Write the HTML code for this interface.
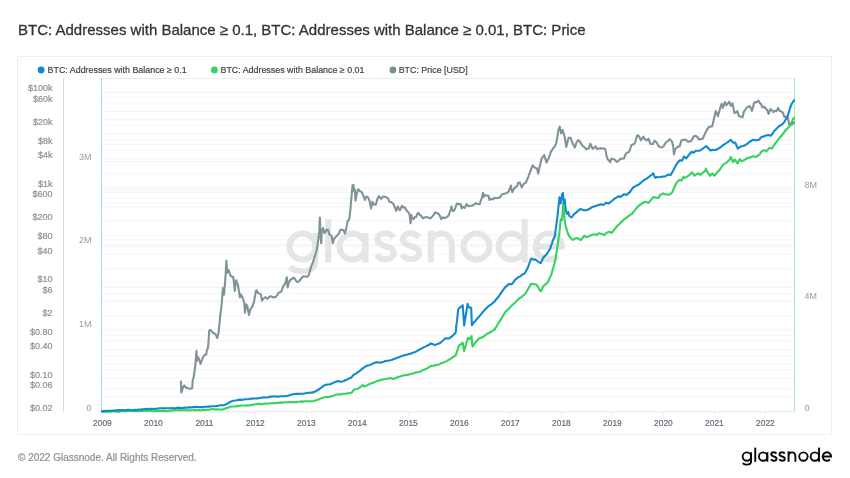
<!DOCTYPE html>
<html><head><meta charset="utf-8">
<style>
html,body{margin:0;padding:0;background:#fff;}
body{width:850px;height:478px;position:relative;overflow:hidden;font-family:"Liberation Sans",sans-serif;}
.title{position:absolute;left:18px;top:21px;font-size:15px;color:#333;-webkit-text-stroke:0.3px #333;white-space:nowrap;line-height:18px;}
.footer{position:absolute;left:18px;top:451.5px;font-size:10px;color:#8f8f8f;-webkit-text-stroke:0.2px #8f8f8f;white-space:nowrap;line-height:12px;}
.logo{position:absolute;left:740px;top:440px;font-size:19.8px;color:#111;white-space:nowrap;line-height:24px;}
svg{position:absolute;left:0;top:0;will-change:transform;}
.title,.footer{will-change:transform;}
</style></head><body>
<div class="title">BTC: Addresses with Balance ≥ 0.1, BTC: Addresses with Balance ≥ 0.01, BTC: Price</div>
<svg width="850" height="478" viewBox="0 0 850 478">
<rect x="17.5" y="56.5" width="814" height="378" fill="#fff" stroke="#eeeeee" stroke-width="1"/>
<g stroke="#f5f5f5" stroke-width="1"><line x1="101" y1="92.5" x2="794" y2="92.5"/><line x1="101" y1="97.1" x2="794" y2="97.1"/><line x1="101" y1="103.1" x2="794" y2="103.1"/><line x1="101" y1="111.5" x2="794" y2="111.5"/><line x1="101" y1="119.8" x2="794" y2="119.8"/><line x1="101" y1="125.8" x2="794" y2="125.8"/><line x1="101" y1="133.7" x2="794" y2="133.7"/><line x1="101" y1="140.1" x2="794" y2="140.1"/><line x1="101" y1="144.7" x2="794" y2="144.7"/><line x1="101" y1="150.7" x2="794" y2="150.7"/><line x1="101" y1="159.1" x2="794" y2="159.1"/><line x1="101" y1="161.5" x2="794" y2="161.5"/><line x1="101" y1="173.4" x2="794" y2="173.4"/><line x1="101" y1="187.7" x2="794" y2="187.7"/><line x1="101" y1="189.3" x2="794" y2="189.3"/><line x1="101" y1="192.3" x2="794" y2="192.3"/><line x1="101" y1="198.3" x2="794" y2="198.3"/><line x1="101" y1="203.1" x2="794" y2="203.1"/><line x1="101" y1="206.7" x2="794" y2="206.7"/><line x1="101" y1="221.0" x2="794" y2="221.0"/><line x1="101" y1="235.3" x2="794" y2="235.3"/><line x1="101" y1="239.9" x2="794" y2="239.9"/><line x1="101" y1="244.8" x2="794" y2="244.8"/><line x1="101" y1="245.9" x2="794" y2="245.9"/><line x1="101" y1="254.3" x2="794" y2="254.3"/><line x1="101" y1="268.6" x2="794" y2="268.6"/><line x1="101" y1="282.9" x2="794" y2="282.9"/><line x1="101" y1="286.4" x2="794" y2="286.4"/><line x1="101" y1="287.5" x2="794" y2="287.5"/><line x1="101" y1="293.5" x2="794" y2="293.5"/><line x1="101" y1="300.3" x2="794" y2="300.3"/><line x1="101" y1="301.9" x2="794" y2="301.9"/><line x1="101" y1="316.2" x2="794" y2="316.2"/><line x1="101" y1="328.1" x2="794" y2="328.1"/><line x1="101" y1="330.5" x2="794" y2="330.5"/><line x1="101" y1="335.1" x2="794" y2="335.1"/><line x1="101" y1="341.1" x2="794" y2="341.1"/><line x1="101" y1="349.5" x2="794" y2="349.5"/><line x1="101" y1="355.9" x2="794" y2="355.9"/><line x1="101" y1="363.8" x2="794" y2="363.8"/><line x1="101" y1="369.8" x2="794" y2="369.8"/><line x1="101" y1="378.1" x2="794" y2="378.1"/><line x1="101" y1="382.7" x2="794" y2="382.7"/><line x1="101" y1="388.7" x2="794" y2="388.7"/><line x1="101" y1="397.1" x2="794" y2="397.1"/></g>
<line x1="101" y1="78.5" x2="794" y2="78.5" stroke="#ececec" stroke-width="1"/>
<line x1="101" y1="411.8" x2="794" y2="411.8" stroke="#e6e6e6" stroke-width="1"/>
<g stroke="#efefef" stroke-width="1"><line x1="102.4" y1="412" x2="102.4" y2="418"/><line x1="153.4" y1="412" x2="153.4" y2="418"/><line x1="204.4" y1="412" x2="204.4" y2="418"/><line x1="255.4" y1="412" x2="255.4" y2="418"/><line x1="306.4" y1="412" x2="306.4" y2="418"/><line x1="357.4" y1="412" x2="357.4" y2="418"/><line x1="408.4" y1="412" x2="408.4" y2="418"/><line x1="459.4" y1="412" x2="459.4" y2="418"/><line x1="510.4" y1="412" x2="510.4" y2="418"/><line x1="561.4" y1="412" x2="561.4" y2="418"/><line x1="612.4" y1="412" x2="612.4" y2="418"/><line x1="663.4" y1="412" x2="663.4" y2="418"/><line x1="714.4" y1="412" x2="714.4" y2="418"/><line x1="765.4" y1="412" x2="765.4" y2="418"/></g>
<g fill="none" stroke="#e5e5e5" stroke-width="6"><circle cx="302.5" cy="246.5" r="13"/><path d="M315.5,233 V260 C315.5,267.5 310,271.25 302.5,271.25 C297,271.25 292.5,269.5 290,266.5"/><path d="M328.25,219 V262.5"/><circle cx="352.55" cy="246.5" r="13"/><path d="M365.55,233 V262.5"/><path d="M393.5,237.5 C391.5,234.5 388.5,233.25 385.5,233.25 C380.5,233.25 377.5,236 377.5,239.5 C377.5,243.5 381,245 385.5,246.25 C390.5,247.5 393.75,249.5 393.75,253 C393.75,257 390,259.25 385.5,259.25 C381.5,259.25 378.5,257.5 376.75,254.5"/><path transform="translate(25.5,0)" d="M393.5,237.5 C391.5,234.5 388.5,233.25 385.5,233.25 C380.5,233.25 377.5,236 377.5,239.5 C377.5,243.5 381,245 385.5,246.25 C390.5,247.5 393.75,249.5 393.75,253 C393.75,257 390,259.25 385.5,259.25 C381.5,259.25 378.5,257.5 376.75,254.5"/><path d="M430.8,230.5 V262.5 M430.8,246 C430.8,238.5 435,233.5 441.3,233.5 C447.6,233.5 451.8,238.5 451.8,246 V262.5"/><circle cx="476.5" cy="246.5" r="13"/><circle cx="511.65" cy="246.5" r="13"/><path d="M524.65,219 V262.5"/><path d="M535.75,246.5 H561.75 A13,13 0 1 0 557.9,255.7"/></g>
<line x1="63.5" y1="78" x2="63.5" y2="411.5" stroke="#d5dadd" stroke-width="1"/>
<line x1="101.5" y1="78" x2="101.5" y2="411.5" stroke="#a8d5ef" stroke-width="1"/>
<line x1="794.5" y1="78" x2="794.5" y2="411.5" stroke="#a6e8b6" stroke-width="1"/>
<g fill="none" stroke-width="1.9" stroke-linejoin="round" stroke-linecap="round">
<path d="M180.9,381.6 L181.0,383.1 L181.0,384.8 L181.1,386.3 L181.1,388.0 L181.2,389.7 L181.2,391.0 L181.3,392.5 L181.9,391.1 L182.5,389.2 L183.3,386.7 L184.2,385.4 L185.4,387.0 L187.7,388.3 L190.1,388.8 L192.2,388.2 L192.3,386.3 L192.4,384.8 L192.5,383.4 L192.6,381.6 L192.7,380.1 L193.6,377.7 L193.8,375.7 L194.1,374.3 L194.3,372.7 L194.6,370.9 L194.8,369.0 L195.1,367.0 L195.4,364.6 L195.5,363.0 L195.7,361.3 L195.8,359.6 L195.9,357.9 L196.1,356.0 L196.2,354.3 L196.4,352.4 L196.5,350.9 L196.6,352.7 L196.6,354.1 L196.7,355.6 L196.8,357.4 L196.8,359.5 L196.9,361.1 L197.3,359.1 L197.7,356.9 L198.9,358.8 L199.5,360.5 L200.0,362.2 L200.6,364.0 L201.2,362.0 L201.8,360.1 L202.7,358.1 L203.6,356.1 L204.7,355.0 L206.3,354.5 L206.5,352.6 L206.7,350.6 L207.7,348.4 L208.1,346.3 L208.4,344.1 L208.5,342.3 L208.6,340.6 L208.7,338.7 L208.8,337.2 L208.9,335.6 L209.0,333.7 L209.1,331.9 L209.2,330.6 L210.3,329.8 L211.4,330.9 L212.5,332.5 L213.9,333.3 L215.4,334.0 L216.4,335.9 L217.3,338.0 L217.7,336.3 L218.2,334.1 L218.6,332.4 L218.8,330.5 L218.9,329.0 L219.1,327.3 L219.3,325.8 L219.4,324.3 L219.6,322.5 L219.8,321.0 L219.9,319.0 L220.1,317.1 L220.3,315.5 L220.5,313.5 L220.7,311.8 L221.0,310.1 L221.2,308.5 L221.4,306.6 L221.6,304.7 L221.7,303.3 L221.9,301.5 L222.0,300.1 L222.1,298.5 L222.2,296.6 L222.4,294.8 L222.5,293.1 L222.6,291.5 L222.8,289.8 L222.9,288.1 L223.2,289.7 L223.4,291.6 L223.7,293.1 L223.9,294.6 L224.1,293.0 L224.3,291.1 L224.4,289.4 L224.6,288.0 L224.8,286.2 L224.9,284.4 L225.1,282.4 L225.2,280.7 L225.3,279.0 L225.4,277.0 L225.6,275.5 L225.7,273.8 L225.8,271.8 L225.9,270.3 L225.9,268.7 L226.0,267.2 L226.1,265.5 L226.2,264.0 L226.2,262.5 L226.3,260.5 L226.4,262.1 L226.6,264.1 L226.7,266.1 L226.9,267.6 L227.0,269.4 L227.2,271.2 L227.3,272.8 L228.6,270.0 L229.2,271.9 L229.9,273.8 L230.5,275.8 L233.3,277.2 L233.5,278.9 L233.7,280.8 L233.9,282.2 L234.1,284.0 L234.2,285.8 L234.4,287.4 L234.6,288.9 L234.8,290.9 L235.0,289.0 L235.2,287.2 L235.4,285.5 L235.7,284.0 L235.9,282.0 L236.1,280.3 L236.7,281.9 L237.4,283.7 L238.0,285.2 L238.3,287.1 L238.5,288.6 L238.8,290.4 L239.1,292.2 L239.4,294.2 L239.6,295.8 L239.9,297.4 L241.0,294.4 L241.8,296.0 L242.6,297.5 L243.1,299.3 L243.7,301.0 L244.2,302.3 L244.3,304.0 L244.5,306.0 L244.6,307.8 L244.7,309.6 L244.9,311.2 L245.0,312.7 L245.2,311.0 L245.4,309.6 L245.7,307.8 L245.9,306.1 L246.1,304.4 L247.3,306.0 L247.6,307.8 L247.9,309.8 L248.3,311.3 L248.6,312.8 L248.9,315.0 L249.3,313.6 L249.7,312.2 L250.1,310.4 L250.5,309.0 L251.5,307.8 L252.5,306.1 L253.0,304.7 L253.6,303.2 L254.1,301.6 L254.4,299.6 L254.7,297.6 L255.1,295.7 L255.4,293.7 L255.7,291.7 L256.5,290.3 L257.8,292.8 L259.3,293.6 L260.9,294.4 L261.3,296.6 L261.6,298.6 L262.0,300.6 L263.5,298.5 L265.6,297.1 L267.2,298.9 L268.8,297.3 L270.3,296.2 L271.9,296.8 L273.4,297.5 L276.1,296.7 L277.0,295.3 L277.8,293.9 L278.7,292.7 L281.3,291.6 L282.0,289.5 L282.7,287.5 L283.4,285.8 L284.9,284.1 L285.4,282.6 L285.9,280.7 L286.3,278.9 L286.8,277.2 L286.9,279.1 L287.1,280.5 L287.2,282.3 L287.3,284.2 L287.5,285.8 L287.6,287.5 L288.1,285.2 L288.6,283.4 L289.1,281.7 L291.2,279.3 L293.8,277.6 L294.9,279.0 L295.9,280.5 L297.0,281.9 L298.0,282.0 L299.2,281.0 L300.4,279.5 L301.9,277.8 L303.5,276.3 L305.4,276.5 L307.4,276.7 L308.2,275.7 L309.0,274.5 L309.5,272.6 L309.9,271.1 L310.4,269.4 L310.8,267.8 L311.3,266.2 L311.9,264.8 L312.5,263.3 L313.1,261.7 L313.7,260.0 L314.2,258.5 L314.6,256.8 L315.1,255.4 L315.6,254.0 L316.2,251.9 L316.8,249.8 L317.1,248.0 L317.3,246.3 L317.6,244.7 L317.8,243.2 L318.1,241.3 L318.3,239.6 L318.5,237.7 L318.8,235.7 L319.0,233.7 L319.2,231.9 L319.3,230.2 L319.4,228.4 L319.5,226.7 L319.5,224.9 L319.6,223.0 L319.7,221.3 L319.8,219.6 L319.9,217.6 L320.0,219.4 L320.0,221.2 L320.1,223.2 L320.1,225.1 L320.2,226.6 L320.2,228.5 L320.3,230.3 L320.3,231.8 L320.4,233.5 L320.6,235.2 L320.7,237.3 L320.9,239.3 L321.0,241.3 L321.2,243.2 L321.3,241.3 L321.4,239.6 L321.5,237.7 L321.5,235.6 L321.6,234.0 L321.7,231.9 L321.8,230.1 L323.1,228.0 L323.5,229.6 L323.9,231.3 L324.3,233.1 L325.2,232.0 L326.2,230.2 L327.8,229.3 L328.3,231.2 L328.8,232.6 L329.3,234.4 L331.7,236.0 L332.0,237.9 L332.2,239.7 L332.5,241.4 L332.8,243.2 L333.3,241.2 L333.9,239.8 L334.4,238.2 L335.6,237.2 L336.9,235.8 L338.8,233.6 L339.7,231.8 L340.6,229.5 L343.5,230.3 L344.2,231.9 L345.0,233.6 L345.4,231.8 L345.8,230.1 L346.2,228.5 L346.6,227.0 L346.9,225.1 L347.3,223.0 L347.6,220.8 L349.2,219.7 L349.4,218.0 L349.6,216.3 L349.8,214.5 L350.0,213.0 L350.2,211.6 L350.4,209.7 L350.5,208.0 L350.7,205.9 L350.8,204.3 L351.0,202.6 L351.1,200.8 L351.3,199.0 L351.4,197.2 L351.6,195.6 L351.8,194.0 L351.9,192.0 L352.1,190.2 L352.2,188.7 L352.4,187.2 L352.5,185.4 L353.4,184.8 L353.6,186.6 L353.8,188.1 L354.0,189.7 L354.2,191.4 L354.9,189.4 L355.0,191.2 L355.1,193.0 L355.2,195.0 L355.3,197.1 L355.4,198.7 L355.5,200.6 L355.8,198.6 L356.2,196.8 L356.5,194.8 L357.0,192.9 L357.6,191.1 L358.1,189.2 L360.2,191.4 L361.7,192.0 L362.5,193.7 L363.3,195.6 L364.1,197.7 L364.9,200.0 L365.6,198.0 L366.4,196.5 L368.0,197.4 L368.8,199.2 L369.6,201.0 L370.0,203.0 L370.4,204.9 L370.7,206.6 L371.1,208.4 L371.4,206.7 L371.8,205.2 L372.1,203.3 L372.4,201.7 L373.7,204.4 L375.8,204.8 L376.3,202.7 L376.9,200.7 L377.4,198.9 L378.2,197.5 L379.0,196.1 L380.1,197.7 L381.1,198.9 L383.2,196.5 L385.8,197.1 L387.9,198.1 L388.6,199.9 L389.4,201.7 L391.5,202.3 L393.6,204.1 L394.2,206.0 L394.9,207.5 L395.6,209.2 L396.2,211.0 L397.0,208.6 L397.8,206.4 L398.9,208.6 L399.9,210.3 L400.6,208.7 L401.3,207.2 L402.0,205.8 L403.0,207.4 L404.7,207.4 L406.3,210.0 L407.6,211.7 L408.9,212.8 L409.7,215.1 L409.9,217.0 L410.0,218.5 L410.2,220.2 L410.3,221.7 L410.5,223.3 L410.7,221.8 L410.9,219.9 L411.0,218.6 L411.2,217.0 L411.4,215.0 L411.8,217.0 L412.2,218.5 L413.5,219.1 L414.7,217.0 L416.0,217.2 L416.6,215.6 L417.2,213.9 L418.5,212.8 L419.7,215.1 L421.0,215.6 L422.7,218.3 L424.8,217.4 L426.4,216.9 L428.1,217.5 L430.2,218.4 L431.9,216.7 L433.5,215.2 L434.4,213.8 L435.2,212.3 L436.9,213.3 L438.6,213.8 L440.2,216.5 L441.3,219.2 L442.7,217.3 L444.8,218.1 L446.9,217.1 L448.6,215.3 L449.5,212.9 L450.3,210.8 L450.9,208.6 L451.4,206.4 L451.9,208.5 L452.4,210.6 L454.0,210.9 L455.3,207.9 L456.1,205.7 L457.0,203.5 L458.6,204.1 L460.0,204.0 L460.8,204.4 L461.2,206.6 L461.7,208.5 L462.9,206.7 L464.6,208.0 L465.6,206.3 L466.7,204.1 L468.4,206.3 L470.5,205.8 L472.6,205.6 L474.1,204.5 L475.5,203.4 L477.6,203.8 L479.7,204.3 L480.3,202.3 L480.9,200.1 L481.9,197.8 L482.4,195.2 L483.0,192.8 L483.4,194.8 L483.8,196.9 L485.1,195.1 L486.8,195.6 L488.5,195.8 L489.0,197.8 L489.5,200.0 L491.0,198.8 L493.1,199.5 L494.3,197.8 L496.0,198.2 L498.1,197.9 L500.2,197.1 L501.8,194.5 L503.5,194.1 L505.6,193.4 L508.5,192.0 L509.1,190.3 L509.8,188.8 L510.4,186.9 L510.9,185.5 L511.2,187.4 L511.6,189.2 L511.9,190.6 L512.3,192.3 L513.1,190.6 L514.0,188.9 L515.6,187.0 L517.3,186.1 L518.0,182.9 L519.8,182.4 L520.4,184.0 L521.1,185.7 L521.7,187.5 L522.8,185.3 L523.9,183.8 L526.0,182.3 L526.7,180.5 L527.5,178.8 L528.2,177.1 L528.9,175.0 L529.7,173.1 L530.4,170.9 L531.1,169.1 L531.9,167.3 L532.6,165.4 L534.8,167.6 L537.0,168.5 L537.4,170.3 L537.8,171.7 L538.2,173.5 L538.6,171.9 L539.0,169.9 L539.3,168.3 L539.7,166.6 L540.1,164.7 L540.5,163.1 L540.9,161.7 L541.3,159.7 L541.7,158.2 L543.0,156.7 L544.3,155.0 L544.8,157.1 L545.4,158.9 L546.0,160.8 L546.5,162.6 L547.2,161.2 L548.0,159.5 L548.7,158.2 L549.2,156.7 L549.8,155.1 L550.4,153.3 L550.9,151.7 L552.0,150.1 L553.1,148.3 L554.6,146.8 L555.5,144.9 L556.3,143.1 L556.6,141.2 L556.9,139.6 L557.2,137.9 L557.5,136.1 L557.8,134.2 L558.1,132.5 L558.4,130.6 L558.7,128.7 L559.7,126.7 L560.1,128.3 L560.5,129.7 L560.8,131.7 L561.2,133.4 L561.9,131.7 L562.6,130.1 L563.2,132.2 L563.9,134.2 L564.5,136.0 L564.8,137.6 L565.1,139.5 L565.4,141.6 L565.7,143.3 L566.0,145.2 L566.3,146.9 L566.7,145.1 L567.2,143.3 L567.6,141.6 L568.1,139.8 L568.5,137.9 L570.7,137.9 L571.3,139.6 L571.8,141.5 L572.4,143.1 L573.2,144.5 L574.0,146.1 L574.8,147.6 L575.4,146.1 L575.9,144.2 L576.5,142.5 L578.2,140.0 L580.0,141.7 L581.3,144.0 L582.6,145.7 L583.8,146.8 L585.1,148.1 L586.3,149.3 L588.8,148.2 L589.5,146.0 L590.3,143.7 L591.1,145.2 L591.8,147.2 L592.6,148.8 L594.2,147.7 L595.7,146.4 L597.0,149.1 L600.1,148.3 L601.8,148.4 L603.5,148.5 L605.2,149.0 L605.5,150.6 L605.8,152.0 L606.1,153.4 L606.4,155.2 L607.0,157.3 L607.7,159.2 L609.0,160.6 L610.2,162.2 L610.8,160.4 L611.4,158.7 L614.0,159.2 L615.5,160.4 L617.1,162.0 L618.7,160.7 L620.2,158.9 L622.1,158.8 L624.0,158.4 L624.6,156.8 L625.3,155.3 L625.9,153.7 L627.5,152.6 L629.0,151.9 L629.6,150.3 L630.2,148.8 L630.9,146.7 L631.5,144.9 L634.1,144.0 L635.3,141.9 L635.8,140.1 L636.2,138.4 L636.7,136.8 L637.2,135.3 L639.1,136.3 L640.0,138.3 L641.0,140.3 L642.1,138.5 L643.3,136.7 L644.7,139.1 L646.6,140.4 L648.5,138.8 L649.1,140.4 L649.8,142.3 L650.4,144.0 L653.2,143.9 L653.9,142.1 L654.6,140.7 L656.5,142.2 L657.5,144.1 L658.4,145.9 L659.8,146.8 L661.2,147.6 L663.5,146.4 L664.7,144.3 L665.9,142.5 L667.2,141.6 L668.4,140.5 L669.7,139.2 L670.9,140.3 L672.0,141.8 L672.6,143.9 L673.2,146.1 L673.3,147.9 L673.5,149.4 L673.6,151.3 L673.8,152.9 L673.9,154.4 L674.4,152.6 L674.8,150.7 L675.3,149.0 L676.5,148.1 L677.7,146.7 L679.6,146.4 L680.2,144.3 L680.8,142.3 L681.4,140.6 L683.0,140.1 L684.7,139.5 L686.4,140.4 L688.0,141.6 L689.6,141.4 L691.3,141.0 L692.1,139.4 L692.9,138.2 L693.7,136.4 L695.6,135.8 L697.5,137.0 L698.9,139.4 L700.8,139.1 L702.6,138.8 L703.4,137.2 L704.2,135.4 L705.0,133.8 L705.7,132.2 L706.5,130.9 L707.3,129.2 L708.4,127.6 L709.5,126.6 L712.1,126.4 L712.7,124.4 L713.2,122.0 L713.6,120.4 L713.9,118.7 L714.3,117.3 L714.7,115.7 L715.1,114.1 L715.4,112.6 L715.8,111.1 L716.5,112.7 L717.3,114.5 L718.0,116.2 L718.4,114.3 L718.8,112.9 L719.3,111.2 L719.7,109.7 L720.1,107.8 L720.9,105.8 L721.6,103.8 L722.2,106.1 L722.7,108.0 L723.4,106.1 L724.2,104.2 L724.9,102.0 L725.6,103.7 L726.4,105.4 L727.8,103.4 L729.3,101.7 L730.0,103.9 L730.8,105.9 L732.6,103.3 L732.9,105.2 L733.2,106.7 L733.5,108.3 L733.8,109.8 L734.1,111.4 L734.4,113.0 L735.9,112.3 L737.4,111.2 L738.1,113.6 L738.8,115.9 L740.6,116.5 L742.5,117.3 L743.0,115.2 L743.5,113.1 L744.0,111.4 L745.0,110.1 L745.9,108.8 L746.9,107.3 L749.8,106.2 L750.5,107.5 L751.3,109.2 L752.0,110.8 L752.5,108.7 L753.0,107.2 L753.5,105.2 L754.0,103.3 L755.0,102.0 L756.5,102.2 L758.3,100.5 L759.8,103.1 L761.2,104.3 L762.3,107.4 L764.2,106.6 L766.0,108.8 L767.4,110.3 L768.0,112.1 L768.5,113.9 L769.5,111.5 L770.4,109.1 L772.2,110.5 L773.3,112.1 L774.8,110.8 L776.2,111.2 L777.2,109.6 L778.1,107.9 L779.5,110.7 L781.4,111.5 L783.2,113.3 L783.8,115.1 L784.3,116.9 L785.7,116.9 L787.6,116.5 L788.0,118.2 L788.3,119.8 L788.7,121.3 L789.0,123.3 L789.4,125.0 L790.9,125.0 L792.3,124.5 L793.4,122.3 L794.2,122.8" stroke="#7f9399" stroke-width="2.1"/>
<path d="M101.8,411.5 L103.4,411.6 L105.0,411.6 L106.6,411.7 L108.3,411.8 L109.9,411.7 L111.5,411.8 L113.1,411.3 L114.7,411.3 L116.3,411.6 L118.0,411.5 L119.6,411.6 L121.2,411.2 L122.8,411.2 L124.4,411.1 L126.0,411.2 L127.7,411.2 L129.3,410.9 L130.9,410.8 L132.5,410.9 L134.1,411.2 L135.7,411.3 L137.3,411.0 L139.0,411.2 L140.6,410.9 L142.2,411.0 L143.8,410.8 L145.4,410.6 L147.0,411.0 L148.7,410.8 L150.3,410.7 L151.9,411.1 L153.5,411.2 L155.1,410.9 L156.7,411.1 L158.3,411.0 L159.9,411.0 L161.5,410.7 L163.1,411.0 L164.7,410.9 L166.3,411.1 L167.9,411.1 L169.5,410.7 L171.1,410.6 L172.7,410.4 L174.3,410.2 L175.9,410.1 L177.6,410.2 L179.2,410.4 L180.8,410.1 L182.4,410.3 L184.0,410.2 L185.6,410.2 L187.2,410.4 L188.8,410.3 L190.4,410.2 L192.0,410.2 L193.6,410.3 L195.2,410.0 L196.8,410.3 L198.4,409.9 L200.0,410.2 L201.7,410.3 L203.4,409.8 L205.0,410.0 L206.7,409.8 L208.4,409.8 L210.1,409.4 L211.8,409.2 L213.4,409.1 L215.1,409.5 L216.8,409.2 L218.5,409.4 L220.1,409.5 L221.8,409.6 L223.5,409.2 L225.2,408.5 L226.8,408.0 L228.5,407.6 L230.1,406.8 L231.8,406.5 L233.5,406.5 L235.2,406.5 L236.9,405.9 L238.6,406.1 L240.2,405.6 L241.9,405.5 L243.6,405.5 L245.3,405.7 L247.0,405.3 L248.7,405.4 L250.4,405.2 L252.1,404.8 L253.7,404.6 L255.4,404.3 L257.1,404.1 L258.8,403.9 L260.5,404.1 L262.2,404.3 L263.9,403.8 L265.5,403.4 L267.2,403.7 L268.9,403.5 L270.6,403.3 L272.3,403.0 L273.9,403.1 L275.6,403.2 L277.3,402.9 L279.0,402.7 L280.6,402.4 L282.3,402.7 L284.0,402.2 L285.6,402.2 L287.3,402.4 L289.0,402.0 L290.7,402.1 L292.3,402.2 L294.0,402.0 L296.0,402.1 L298.0,401.7 L300.0,401.7 L301.8,401.4 L303.5,401.6 L305.3,401.3 L307.1,401.2 L308.8,401.4 L310.6,401.3 L312.3,401.3 L314.1,400.9 L315.7,400.3 L317.3,399.9 L318.9,399.3 L320.6,398.6 L322.2,398.1 L323.8,397.4 L325.4,397.0 L327.2,397.0 L328.9,396.9 L330.7,396.4 L332.4,395.9 L334.2,395.4 L336.0,394.8 L337.7,394.5 L339.5,394.4 L341.2,394.4 L342.9,393.9 L344.6,393.8 L346.4,393.6 L348.1,393.3 L349.8,393.0 L351.5,392.8 L352.9,391.0 L354.4,389.5 L356.1,389.0 L357.9,388.7 L359.5,387.6 L361.2,386.4 L362.8,384.9 L364.2,386.6 L365.8,385.9 L367.4,385.2 L369.0,384.2 L370.6,383.7 L372.3,382.9 L374.0,382.4 L375.7,381.6 L377.4,381.1 L379.1,380.4 L380.7,380.1 L382.3,379.6 L383.9,379.3 L385.6,379.0 L387.2,378.8 L388.8,378.2 L390.4,378.0 L393.2,379.1 L395.1,378.3 L396.9,377.6 L398.8,376.9 L400.5,376.3 L402.2,375.8 L403.9,375.2 L405.6,375.1 L407.3,374.9 L408.9,374.4 L410.5,374.0 L412.1,373.7 L413.6,373.3 L415.2,372.6 L416.8,372.4 L418.4,372.0 L420.0,371.7 L421.5,370.8 L423.1,370.1 L424.6,369.5 L426.1,368.8 L427.6,368.1 L429.2,367.0 L430.7,366.1 L432.5,365.8 L434.2,365.6 L436.0,365.0 L437.8,364.7 L439.6,364.2 L441.4,363.2 L443.1,362.6 L444.9,361.9 L446.7,361.1 L448.2,360.1 L449.7,359.3 L451.1,358.3 L452.6,357.3 L454.1,356.3 L455.6,355.6 L456.1,354.0 L456.7,352.5 L457.2,350.9 L457.7,349.1 L458.3,347.8 L458.8,345.8 L460.1,344.8 L461.4,343.8 L462.7,342.8 L463.0,344.3 L463.3,346.4 L463.5,347.9 L463.8,349.3 L464.1,351.2 L464.6,349.3 L465.1,347.8 L465.6,346.0 L466.1,344.4 L466.5,343.0 L467.0,341.3 L467.5,339.4 L468.0,337.8 L469.8,339.1 L470.7,337.6 L471.6,336.0 L471.7,337.9 L471.9,339.6 L472.0,341.6 L472.1,343.5 L472.3,345.1 L472.4,346.5 L473.4,345.5 L474.5,343.8 L475.5,342.4 L476.6,341.3 L477.6,340.2 L478.7,338.7 L480.5,338.0 L482.2,337.3 L484.0,336.2 L485.3,335.3 L486.7,334.2 L488.0,333.3 L489.4,332.8 L490.7,331.8 L492.0,331.2 L493.4,330.4 L494.7,329.4 L495.6,327.7 L496.5,326.6 L497.4,325.0 L498.2,323.5 L499.1,322.0 L500.0,320.9 L500.9,319.4 L501.8,317.8 L502.6,316.4 L503.5,314.8 L504.4,313.6 L505.3,312.1 L506.6,310.8 L507.8,309.7 L509.1,308.6 L510.4,306.9 L511.7,305.8 L512.9,304.4 L514.2,303.5 L515.7,302.1 L517.3,300.4 L518.8,298.8 L520.1,297.7 L521.3,297.2 L522.6,296.0 L523.8,295.0 L525.1,294.0 L526.0,292.6 L526.8,291.2 L527.7,289.9 L528.5,288.1 L529.4,286.9 L530.2,285.3 L531.1,283.9 L532.9,284.0 L534.6,284.2 L536.4,284.5 L537.3,285.9 L538.2,287.2 L539.0,288.8 L539.9,290.2 L540.8,291.3 L541.6,289.7 L542.3,288.2 L543.1,286.9 L543.9,285.5 L545.8,284.1 L547.7,282.5 L548.5,281.0 L549.2,279.2 L550.0,277.5 L550.7,275.8 L551.5,274.1 L552.0,272.3 L552.4,270.9 L552.9,269.0 L553.4,267.3 L553.8,265.8 L554.3,263.9 L554.7,262.2 L555.2,260.8 L555.5,258.8 L555.8,257.3 L556.0,255.6 L556.3,253.8 L556.6,251.9 L556.9,250.3 L557.1,248.8 L557.4,246.7 L557.7,245.0 L557.9,243.3 L558.2,241.5 L558.4,239.6 L558.7,237.7 L558.9,236.1 L559.2,234.6 L559.4,232.5 L559.6,230.7 L559.7,229.3 L559.9,227.7 L560.0,226.0 L560.2,223.9 L560.4,222.4 L560.5,220.9 L560.7,219.4 L562.0,220.4 L562.1,218.3 L562.2,216.9 L562.4,214.9 L562.5,213.4 L562.6,211.9 L562.7,210.2 L562.8,208.2 L563.0,206.4 L563.1,205.1 L563.2,203.1 L563.3,204.9 L563.5,206.6 L563.6,208.2 L563.8,210.1 L563.9,211.6 L564.1,213.3 L564.2,215.1 L564.4,216.8 L564.5,218.4 L564.8,220.6 L565.1,222.7 L565.4,224.8 L565.7,226.3 L566.2,227.9 L566.7,229.4 L567.1,231.1 L567.6,232.7 L568.4,234.6 L569.3,236.1 L570.1,237.5 L571.4,238.8 L572.6,239.8 L572.7,239.9 L574.8,238.8 L576.8,238.0 L578.8,239.0 L580.9,240.0 L582.0,238.5 L583.2,237.2 L584.3,235.7 L586.3,237.2 L588.3,236.5 L590.4,235.6 L592.5,234.8 L594.5,234.2 L596.5,235.1 L597.9,233.9 L599.3,233.1 L600.9,233.9 L602.4,234.2 L604.0,235.1 L605.4,233.9 L606.7,232.8 L609.5,231.6 L611.5,232.9 L612.9,231.5 L614.2,229.7 L615.3,228.3 L616.5,227.1 L617.6,225.4 L619.0,224.6 L620.3,223.2 L621.4,221.8 L622.6,220.9 L623.7,219.7 L625.4,218.4 L627.1,217.1 L628.5,216.2 L630.0,214.9 L631.8,214.1 L632.9,212.4 L634.0,211.2 L635.1,209.8 L636.3,208.4 L637.4,207.1 L638.5,206.0 L639.8,205.0 L641.2,204.1 L642.5,203.0 L643.9,202.5 L645.2,201.6 L646.9,202.3 L648.5,202.7 L649.8,201.4 L651.0,199.8 L652.2,198.4 L653.5,196.9 L655.2,197.4 L656.8,197.7 L658.5,197.9 L660.0,195.1 L661.5,194.3 L663.1,193.4 L664.7,194.2 L666.3,194.4 L668.4,194.6 L670.5,194.2 L671.5,193.0 L672.5,192.0 L673.2,190.2 L673.9,188.4 L674.6,186.6 L675.7,184.5 L676.7,182.6 L678.0,181.2 L679.3,180.0 L681.4,180.6 L682.5,178.9 L683.5,176.6 L685.1,178.0 L686.7,176.9 L688.2,175.8 L689.5,174.8 L690.8,173.7 L691.9,172.3 L693.2,173.7 L694.5,175.7 L697.1,174.0 L698.7,173.2 L700.2,174.8 L701.5,173.8 L702.9,172.6 L704.9,171.2 L706.0,168.7 L706.8,170.7 L707.6,172.4 L708.9,174.1 L710.2,175.8 L712.3,173.4 L713.3,174.6 L714.4,175.7 L715.7,174.2 L717.0,172.6 L718.5,170.9 L720.0,169.4 L720.3,168.8 L721.5,167.1 L722.6,165.7 L723.8,164.0 L725.2,163.4 L726.6,162.6 L728.0,161.1 L729.5,159.9 L730.1,158.4 L730.7,157.0 L731.5,158.7 L732.2,160.2 L733.0,162.2 L734.7,159.5 L735.7,160.6 L736.6,162.3 L737.6,163.5 L738.4,161.8 L739.1,160.4 L739.9,159.2 L741.6,161.4 L743.6,160.4 L745.6,159.2 L747.4,158.3 L749.1,157.8 L750.8,157.0 L752.5,156.4 L754.2,156.5 L756.0,157.0 L757.8,155.7 L759.5,154.6 L760.6,152.8 L761.8,151.2 L764.1,150.1 L766.4,151.3 L767.5,149.9 L768.7,148.7 L769.8,148.0 L772.1,148.4 L773.2,146.5 L774.4,144.5 L775.6,143.0 L776.8,141.3 L778.0,139.8 L779.1,138.3 L780.1,137.1 L781.2,136.1 L782.3,134.7 L783.4,133.5 L784.4,131.8 L785.5,130.2 L786.8,129.1 L788.0,127.9 L789.3,126.7 L790.0,125.1 L790.8,123.7 L791.5,122.4 L792.3,121.0 L793.0,119.2 L794.0,117.9" stroke="#33d35d" stroke-width="2.1"/>
<path d="M101.8,411.3 L103.5,411.1 L105.1,410.9 L106.8,411.0 L108.4,410.7 L110.1,410.8 L111.7,410.7 L113.4,410.5 L115.1,410.6 L116.7,410.3 L118.4,410.4 L120.0,410.1 L121.7,410.0 L123.3,410.1 L125.0,410.4 L126.7,410.0 L128.4,409.9 L130.0,410.0 L131.7,410.2 L133.4,410.1 L135.1,409.8 L136.7,410.0 L138.4,409.5 L140.1,409.7 L141.8,409.4 L143.4,409.2 L145.1,409.0 L146.8,408.9 L148.5,409.2 L150.1,408.9 L151.8,408.9 L153.5,409.0 L155.2,408.8 L156.8,408.8 L158.5,408.4 L160.1,408.2 L161.8,408.2 L163.4,408.4 L165.1,408.3 L166.8,408.2 L168.4,408.3 L170.1,408.2 L171.7,408.0 L173.4,408.2 L175.0,408.2 L176.7,407.9 L178.3,407.9 L180.0,407.8 L181.7,408.0 L183.3,407.9 L185.0,407.6 L186.7,407.8 L188.3,407.4 L190.0,407.3 L191.7,407.4 L193.3,407.1 L195.0,407.1 L196.7,406.8 L198.3,407.0 L200.0,407.1 L201.7,407.0 L203.4,407.1 L205.1,406.7 L206.7,406.7 L208.4,406.6 L210.1,406.5 L211.8,406.3 L213.5,406.3 L215.1,406.3 L216.8,406.0 L218.5,405.8 L220.2,405.3 L221.8,405.3 L223.5,405.2 L225.2,404.6 L227.0,403.9 L228.6,402.8 L230.2,401.9 L231.8,401.3 L233.6,400.7 L235.3,400.5 L237.0,400.2 L238.6,399.9 L240.3,399.6 L242.0,399.9 L243.7,399.5 L245.3,399.3 L247.0,399.2 L248.7,399.3 L250.4,398.8 L252.1,398.6 L253.7,398.5 L255.4,398.5 L257.1,398.4 L258.8,398.3 L260.5,397.8 L262.2,397.6 L263.9,397.3 L265.5,397.5 L267.2,397.5 L268.9,396.9 L270.6,396.6 L272.4,396.5 L274.1,396.4 L275.9,396.5 L277.6,396.6 L279.4,396.5 L281.2,396.2 L282.9,396.3 L284.7,396.3 L286.3,396.0 L288.0,395.8 L289.6,395.3 L291.3,394.7 L292.9,394.2 L294.7,394.1 L296.4,393.7 L298.2,393.9 L300.0,393.8 L301.8,393.8 L303.5,393.7 L305.3,393.3 L307.1,393.0 L308.8,392.7 L310.6,392.7 L312.3,392.4 L314.1,392.1 L315.5,391.3 L317.0,390.5 L318.4,389.8 L319.8,388.7 L321.2,387.6 L322.6,386.7 L324.0,385.7 L325.4,384.9 L328.2,384.5 L329.9,384.3 L331.5,383.7 L333.1,382.9 L334.8,382.2 L336.5,381.6 L338.1,381.0 L340.2,381.8 L341.9,381.5 L343.5,381.2 L345.2,380.3 L346.8,379.7 L348.4,378.8 L349.9,378.1 L351.5,377.5 L352.6,375.9 L353.6,374.7 L356.5,373.4 L357.9,372.1 L359.3,371.3 L360.7,370.1 L362.1,368.7 L363.8,367.8 L365.4,366.5 L367.1,365.6 L368.6,365.3 L370.1,364.9 L371.6,364.3 L373.2,363.4 L374.7,362.8 L376.2,362.1 L378.4,362.5 L380.5,362.6 L382.1,362.3 L383.8,361.7 L385.4,361.0 L387.1,360.8 L388.8,360.6 L390.4,360.2 L392.1,359.7 L393.8,359.1 L395.4,358.6 L397.1,357.7 L398.8,357.2 L400.5,356.6 L402.2,355.9 L403.9,355.3 L405.6,354.9 L407.3,354.5 L408.9,354.1 L410.5,353.7 L412.1,352.9 L413.6,352.4 L415.2,351.9 L416.8,351.2 L418.4,350.2 L420.0,349.3 L421.8,348.4 L423.5,347.4 L425.3,346.6 L426.6,345.9 L428.0,345.3 L429.4,344.5 L430.7,343.4 L432.9,344.2 L435.1,345.1 L437.4,343.9 L439.6,343.3 L440.9,342.3 L442.2,341.2 L443.6,339.9 L444.9,338.5 L447.1,338.3 L449.3,338.5 L450.6,337.2 L451.8,336.3 L453.1,335.3 L454.3,334.0 L455.6,332.7 L455.8,331.3 L456.0,329.7 L456.2,327.7 L456.3,325.8 L456.5,324.1 L456.7,322.9 L456.9,321.4 L457.1,319.4 L457.3,318.0 L457.5,316.6 L457.6,314.8 L457.8,312.9 L458.0,311.3 L458.2,309.4 L459.7,307.7 L461.2,306.7 L462.7,305.2 L462.8,306.9 L462.9,308.8 L463.1,310.3 L463.2,312.2 L463.3,314.0 L463.4,315.3 L463.5,316.9 L463.6,318.6 L463.8,320.2 L463.9,322.1 L464.0,323.7 L464.1,325.5 L464.4,323.6 L464.6,322.4 L464.9,320.6 L465.2,318.9 L465.4,317.3 L465.7,315.8 L466.0,314.0 L466.3,312.5 L466.5,310.7 L466.8,309.0 L467.1,307.3 L467.3,305.3 L467.6,303.7 L468.2,305.6 L468.9,307.4 L471.2,307.8 L471.3,309.3 L471.3,311.2 L471.4,313.1 L471.5,314.8 L471.5,316.4 L471.6,318.2 L471.7,320.0 L471.8,321.9 L471.8,323.3 L471.9,325.2 L473.0,323.6 L474.2,322.1 L475.3,321.0 L476.4,319.6 L477.6,318.2 L478.7,316.9 L479.9,315.7 L481.1,314.2 L482.2,312.8 L483.4,311.4 L484.6,310.1 L485.8,308.8 L487.1,307.6 L488.3,306.5 L489.6,305.4 L490.9,304.6 L492.2,303.5 L493.4,302.5 L494.7,301.4 L495.8,299.8 L496.8,298.5 L497.9,297.5 L498.9,296.2 L500.0,294.6 L501.0,293.0 L502.0,291.7 L503.0,290.1 L504.0,288.8 L505.0,287.3 L506.3,286.3 L507.5,285.2 L508.8,284.0 L511.9,284.1 L512.9,283.0 L513.8,281.7 L514.8,280.1 L515.7,279.1 L517.2,278.3 L518.6,277.0 L520.1,276.4 L521.6,275.2 L523.0,274.3 L524.5,273.6 L525.5,272.0 L526.6,269.9 L527.6,268.1 L528.2,266.6 L528.8,265.0 L529.4,263.3 L529.9,261.7 L530.5,260.4 L531.1,258.5 L533.3,259.7 L535.1,259.4 L536.4,260.2 L537.7,261.3 L539.2,262.3 L540.8,263.2 L541.4,261.5 L542.0,260.4 L542.7,259.0 L543.3,257.7 L544.8,256.0 L546.4,254.6 L547.4,252.9 L548.3,251.8 L549.2,250.2 L550.2,248.5 L550.8,246.7 L551.3,245.2 L551.9,243.6 L552.5,241.7 L553.1,239.9 L553.8,238.6 L554.4,236.9 L555.0,235.4 L555.2,233.4 L555.4,231.5 L555.6,230.1 L555.9,228.4 L556.1,226.5 L556.3,225.3 L556.5,223.6 L556.7,222.1 L557.0,220.0 L557.2,218.6 L557.4,216.6 L557.6,215.2 L557.8,213.4 L558.0,211.5 L558.1,209.8 L558.3,208.4 L558.5,206.3 L558.7,204.4 L558.9,202.8 L559.0,200.9 L559.2,199.0 L559.4,197.2 L559.8,199.2 L560.3,201.3 L560.7,203.5 L560.9,201.8 L561.2,200.3 L561.4,198.4 L561.7,196.7 L561.9,194.8 L562.9,193.0 L563.1,194.7 L563.3,196.6 L563.4,198.4 L563.6,200.6 L563.8,202.6 L564.8,199.9 L564.9,201.7 L565.1,203.6 L565.2,205.0 L565.4,206.9 L565.6,208.5 L565.7,210.1 L566.4,212.2 L567.0,213.9 L568.2,212.0 L568.9,214.0 L569.5,216.2 L571.4,217.5 L572.8,215.9 L574.1,214.2 L575.8,212.9 L577.5,211.3 L578.9,210.2 L580.2,209.0 L581.9,209.6 L583.6,210.2 L585.7,210.2 L587.7,209.7 L590.4,208.3 L592.1,207.2 L593.8,206.5 L595.5,206.1 L597.2,205.4 L599.2,204.8 L601.3,204.3 L603.3,205.0 L604.7,204.0 L606.1,202.8 L608.8,203.6 L609.9,202.4 L611.1,201.7 L612.2,200.8 L613.5,199.6 L614.9,198.4 L616.6,197.6 L618.3,196.3 L620.3,196.9 L621.7,195.8 L623.0,195.0 L624.4,194.2 L626.5,194.9 L628.2,193.4 L630.0,192.1 L630.1,191.5 L631.2,190.1 L632.3,188.6 L633.4,187.3 L635.1,186.4 L636.8,185.4 L638.5,184.7 L639.8,183.6 L641.0,182.6 L642.2,181.5 L643.5,180.5 L644.8,179.7 L646.2,178.8 L647.5,178.0 L648.9,176.9 L650.2,175.8 L651.7,174.9 L653.2,173.3 L654.2,175.6 L655.2,177.7 L656.9,177.1 L658.5,177.2 L660.0,177.0 L661.7,176.7 L663.5,176.5 L665.2,176.4 L666.8,175.3 L668.4,174.6 L670.5,175.1 L671.4,173.7 L672.2,172.2 L673.1,170.7 L674.0,168.9 L674.9,167.3 L675.8,165.6 L676.7,163.9 L678.3,162.0 L679.9,160.2 L682.0,160.6 L683.0,158.6 L684.0,156.4 L686.1,158.4 L687.4,156.8 L688.7,155.3 L690.0,153.5 L691.4,151.8 L693.4,152.7 L696.1,150.7 L697.9,150.8 L699.7,150.7 L700.7,150.0 L702.0,149.1 L703.5,148.2 L704.9,146.9 L706.4,146.1 L707.6,147.5 L708.9,148.8 L710.1,150.4 L713.0,149.9 L715.8,150.0 L718.0,148.7 L719.8,147.8 L721.5,146.5 L723.2,145.2 L724.9,144.0 L726.4,143.0 L727.8,142.1 L729.2,141.0 L730.7,139.9 L731.9,141.1 L733.0,142.6 L735.3,142.6 L736.1,144.8 L737.0,146.6 L737.8,148.6 L739.4,147.4 L741.0,146.5 L742.8,146.0 L744.5,145.6 L746.0,144.6 L747.6,143.6 L749.1,142.2 L751.1,141.0 L753.1,139.7 L754.9,140.1 L756.6,140.3 L759.5,139.5 L760.6,137.8 L761.8,136.7 L763.5,136.6 L765.2,135.8 L767.0,135.3 L768.7,135.0 L771.0,135.8 L772.1,134.0 L773.3,132.3 L774.4,130.6 L775.6,129.8 L776.8,128.4 L778.0,127.3 L779.4,126.0 L780.8,125.1 L782.2,124.3 L783.6,122.9 L784.5,121.5 L785.5,119.8 L786.5,118.3 L787.4,116.7 L787.9,114.8 L788.5,113.4 L789.0,111.7 L789.6,109.7 L790.1,107.9 L790.7,106.5 L791.2,105.0 L792.1,103.3 L793.1,101.7 L794.0,100.4" stroke="#1189cd" stroke-width="2.1"/>
</g>
<g font-family="Liberation Sans" font-size="9" fill="#8f8f8f" stroke="#8f8f8f" stroke-width="0.2" text-anchor="end" dominant-baseline="central"><text x="52.5" y="88.4">$100k</text><text x="52.5" y="98.9">$60k</text><text x="52.5" y="121.7">$20k</text><text x="52.5" y="140.7">$8k</text><text x="52.5" y="155.0">$4k</text><text x="52.5" y="183.8">$1k</text><text x="52.5" y="194.4">$600</text><text x="52.5" y="217.1">$200</text><text x="52.5" y="236.1">$80</text><text x="52.5" y="250.5">$40</text><text x="52.5" y="279.2">$10</text><text x="52.5" y="289.8">$6</text><text x="52.5" y="312.5">$2</text><text x="52.5" y="331.5">$0.80</text><text x="52.5" y="345.9">$0.40</text><text x="52.5" y="374.6">$0.10</text><text x="52.5" y="385.2">$0.06</text><text x="52.5" y="408.0">$0.02</text></g>
<g font-family="Liberation Sans" font-size="9" fill="#999" text-anchor="end" dominant-baseline="central"><text x="91.5" y="407.5">0</text><text x="91.5" y="323.9">1M</text><text x="91.5" y="240.3">2M</text><text x="91.5" y="156.7">3M</text></g>
<g font-family="Liberation Sans" font-size="9" fill="#999" text-anchor="start" dominant-baseline="central"><text x="804.5" y="407.8">0</text><text x="804.5" y="296.3">4M</text><text x="804.5" y="184.8">8M</text></g>
<g font-family="Liberation Sans" font-size="8.4" fill="#646b78" stroke="#646b78" stroke-width="0.2" text-anchor="middle"><text x="102.4" y="426">2009</text><text x="153.4" y="426">2010</text><text x="204.4" y="426">2011</text><text x="255.4" y="426">2012</text><text x="306.4" y="426">2013</text><text x="357.4" y="426">2014</text><text x="408.4" y="426">2015</text><text x="459.4" y="426">2016</text><text x="510.4" y="426">2017</text><text x="561.4" y="426">2018</text><text x="612.4" y="426">2019</text><text x="663.4" y="426">2020</text><text x="714.4" y="426">2021</text><text x="765.4" y="426">2022</text></g>
<circle cx="41.1" cy="70" r="3.4" fill="#0b8ad0"/>
<circle cx="214.4" cy="70" r="3.4" fill="#30d65a"/>
<circle cx="392.9" cy="70" r="3.4" fill="#7b8f96"/>
<g font-family="Liberation Sans" font-size="8.9" fill="#444" stroke="#444" stroke-width="0.2">
<text x="47.6" y="73">BTC: Addresses with Balance ≥ 0.1</text>
<text x="220.5" y="73">BTC: Addresses with Balance ≥ 0.01</text>
<text x="398.7" y="73">BTC: Price [USD]</text>
</g>
</svg>
<div class="footer">© 2022 Glassnode. All Rights Reserved.</div>
<svg width="850" height="478" style="position:absolute;left:0;top:0"><g transform="translate(741.5,461.6) scale(0.325) translate(-286,-262)" fill="none" stroke="#0a0a0a" stroke-width="5.9"><circle cx="302.5" cy="246.5" r="13"/><path d="M315.5,233 V260 C315.5,267.5 310,271.25 302.5,271.25 C297,271.25 292.5,269.5 290,266.5"/><path d="M328.25,219 V262.5"/><circle cx="352.55" cy="246.5" r="13"/><path d="M365.55,233 V262.5"/><path d="M393.5,237.5 C391.5,234.5 388.5,233.25 385.5,233.25 C380.5,233.25 377.5,236 377.5,239.5 C377.5,243.5 381,245 385.5,246.25 C390.5,247.5 393.75,249.5 393.75,253 C393.75,257 390,259.25 385.5,259.25 C381.5,259.25 378.5,257.5 376.75,254.5"/><path transform="translate(25.5,0)" d="M393.5,237.5 C391.5,234.5 388.5,233.25 385.5,233.25 C380.5,233.25 377.5,236 377.5,239.5 C377.5,243.5 381,245 385.5,246.25 C390.5,247.5 393.75,249.5 393.75,253 C393.75,257 390,259.25 385.5,259.25 C381.5,259.25 378.5,257.5 376.75,254.5"/><path d="M430.8,230.5 V262.5 M430.8,246 C430.8,238.5 435,233.5 441.3,233.5 C447.6,233.5 451.8,238.5 451.8,246 V262.5"/><circle cx="476.5" cy="246.5" r="13"/><circle cx="511.65" cy="246.5" r="13"/><path d="M524.65,219 V262.5"/><path d="M535.75,246.5 H561.75 A13,13 0 1 0 557.9,255.7"/></g></svg>
</body></html>
